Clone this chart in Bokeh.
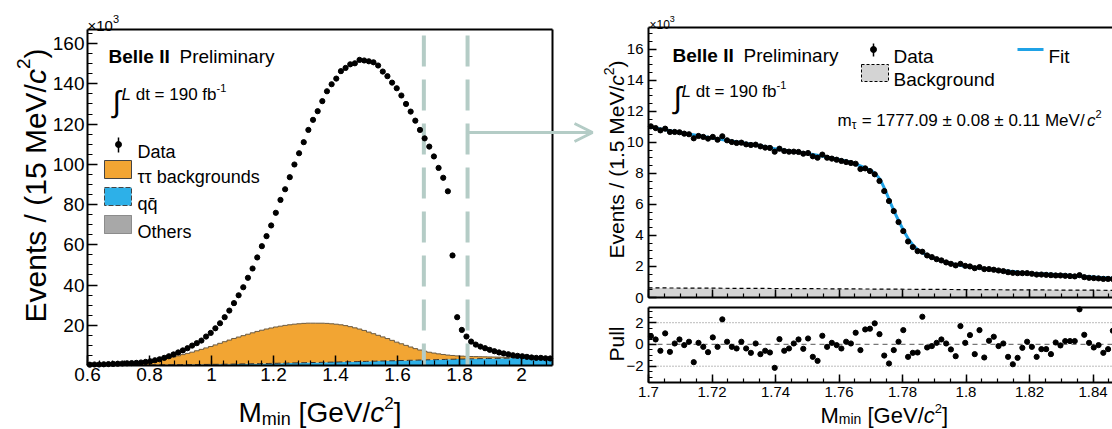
import numpy as np
from bokeh.plotting import figure
from bokeh.layouts import row
from bokeh.models import Range1d, Label, Arrow, OpenHead, FixedTicker, LinearAxis
from bokeh.embed import file_html
from bokeh.resources import INLINE

FONT = "Liberation Sans"

# ------------------------------------------------------------------ data
# Left panel: M_min spectrum, 100 bins of 15 MeV from 0.6 to 2.1 GeV (values x10^3)
L_XMIN, L_XMAX, L_BIN = 0.6, 2.1, 0.015
left_data = [0.4, 0.5, 0.5, 0.6, 0.7, 0.8, 0.9, 1.0, 1.1, 1.2,
             1.3, 1.5, 1.8, 2.1, 2.6, 3.1, 3.8, 4.6, 5.5, 6.5,
             7.5, 8.6, 9.9, 11.1, 12.4, 14.4, 16.2, 18.5, 21.0, 24.0,
             27.3, 31.0, 34.9, 38.9, 43.6, 48.2, 53.7, 59.3, 64.3, 69.6,
             75.9, 82.3, 87.6, 93.6, 99.9, 105.5, 111.0, 117.1, 122.1, 126.4,
             131.4, 136.3, 139.8, 142.6, 146.3, 147.9, 149.7, 150.2, 151.9, 151.6,
             151.2, 150.7, 149.1, 146.1, 143.8, 140.6, 137.8, 134.2, 130.0, 126.2,
             121.7, 117.1, 112.9, 108.8, 103.9, 98.2, 93.3, 86.6, 54.7, 24.0,
             17.7, 14.4, 11.9, 10.4, 9.4, 8.6, 7.8, 7.1, 6.5, 6.0,
             5.6, 5.1, 4.8, 4.6, 4.3, 4.0, 3.8, 3.8, 3.6, 3.5]
left_tautau = [0.25, 0.30, 0.35, 0.40, 0.44, 0.54, 0.63, 0.73, 0.82, 0.97,
               1.11, 1.30, 1.50, 1.79, 2.08, 2.47, 2.86, 3.35, 3.84, 4.42,
               5.00, 5.58, 6.16, 6.84, 7.52, 8.20, 8.87, 9.64, 10.41, 11.18,
               11.95, 12.72, 13.38, 14.04, 14.70, 15.36, 16.02, 16.58, 17.14, 17.60,
               18.05, 18.40, 18.75, 19.00, 19.25, 19.40, 19.55, 19.60, 19.55, 19.50,
               19.45, 19.30, 19.05, 18.80, 18.45, 18.00, 17.45, 16.80, 16.15, 15.40,
               14.54, 13.68, 12.82, 11.96, 11.10, 10.14, 9.18, 8.32, 7.46, 6.60,
               5.74, 4.98, 4.32, 3.76, 3.30, 2.84, 2.48, 2.12, 1.86, 1.60,
               1.45, 1.30, 1.15, 1.05, 0.95, 0.85, 0.76, 0.67, 0.58, 0.49,
               0.40, 0.36, 0.32, 0.28, 0.24, 0.20, 0.17, 0.14, 0.11, 0.08]
left_qq = [0.05, 0.05, 0.05, 0.05, 0.06, 0.06, 0.07, 0.07, 0.08, 0.08,
           0.09, 0.10, 0.10, 0.11, 0.12, 0.13, 0.14, 0.15, 0.16, 0.18,
           0.20, 0.22, 0.24, 0.26, 0.28, 0.30, 0.33, 0.36, 0.39, 0.42,
           0.45, 0.48, 0.52, 0.56, 0.60, 0.64, 0.68, 0.72, 0.76, 0.80,
           0.85, 0.90, 0.95, 1.00, 1.05, 1.10, 1.15, 1.20, 1.25, 1.30,
           1.35, 1.40, 1.45, 1.50, 1.55, 1.60, 1.65, 1.70, 1.75, 1.80,
           1.86, 1.92, 1.98, 2.04, 2.10, 2.16, 2.22, 2.28, 2.34, 2.40,
           2.46, 2.52, 2.58, 2.64, 2.70, 2.76, 2.82, 2.88, 2.94, 3.00,
           3.05, 3.10, 3.15, 3.20, 3.25, 3.30, 3.34, 3.38, 3.42, 3.46,
           3.50, 3.54, 3.58, 3.62, 3.66, 3.70, 3.73, 3.76, 3.79, 3.82]
left_others = [0.15, 0.15, 0.16, 0.16, 0.17, 0.17, 0.18, 0.18, 0.18, 0.19,
               0.19, 0.19, 0.20, 0.20, 0.20, 0.20, 0.21, 0.21, 0.21, 0.21,
               0.22, 0.22, 0.22, 0.22, 0.22, 0.23, 0.23, 0.23, 0.23, 0.23,
               0.23, 0.23, 0.24, 0.24, 0.24, 0.24, 0.24, 0.24, 0.24, 0.24,
               0.24, 0.24, 0.24, 0.24, 0.24, 0.24, 0.24, 0.24, 0.24, 0.23,
               0.23, 0.23, 0.23, 0.23, 0.23, 0.22, 0.22, 0.22, 0.22, 0.22,
               0.21, 0.21, 0.21, 0.21, 0.20, 0.20, 0.20, 0.20, 0.20, 0.19,
               0.19, 0.19, 0.19, 0.19, 0.18, 0.18, 0.18, 0.18, 0.18, 0.18,
               0.17, 0.17, 0.17, 0.17, 0.17, 0.17, 0.17, 0.16, 0.16, 0.16,
               0.16, 0.16, 0.16, 0.16, 0.16, 0.15, 0.15, 0.15, 0.15, 0.15]
left_xticks = [0.6, 0.8, 1, 1.2, 1.4, 1.6, 1.8, 2]
left_xtick_labels = ["0.6", "0.8", "1", "1.2", "1.4", "1.6", "1.8", "2"]
left_yticks = [20, 40, 60, 80, 100, 120, 140, 160]
L_YMAX = 167
window_lo, window_hi = 1.685, 1.826   # zoom window marked in the left panel

# Right panel: 100 bins of 1.5 MeV from 1.70 GeV (values x10^3)
R_XMIN, R_XMAX, R_BIN = 1.7, 1.85, 0.0015
right_data = [11.03, 10.92, 10.77, 10.88, 10.67, 10.67, 10.65, 10.56, 10.52, 10.26,
              10.41, 10.35, 10.24, 10.35, 10.17, 10.39, 10.13, 10.02, 9.96, 9.98,
              9.87, 9.83, 9.85, 9.74, 9.66, 9.64, 9.40, 9.59, 9.44, 9.40,
              9.40, 9.38, 9.27, 9.31, 9.10, 9.01, 9.21, 9.01, 8.95, 8.88,
              8.80, 8.73, 8.67, 8.62, 8.28, 8.32, 8.15, 7.94, 7.51, 6.86,
              6.22, 5.57, 4.86, 4.28, 3.61, 3.25, 2.99, 2.95, 2.71, 2.60,
              2.47, 2.39, 2.26, 2.17, 2.07, 2.17, 2.04, 2.00, 1.89, 1.96,
              1.83, 1.83, 1.79, 1.74, 1.70, 1.63, 1.59, 1.57, 1.57, 1.57,
              1.53, 1.48, 1.48, 1.46, 1.44, 1.42, 1.42, 1.40, 1.38, 1.36,
              1.44, 1.31, 1.27, 1.25, 1.23, 1.20, 1.20, 1.19, 1.18, 1.18]
right_pull = [0.77, 0.46, -0.58, 1.02, -0.68, 0.09, 0.46, -0.06, 0.25, -1.63,
              0.15, -0.22, -0.71, 0.65, -0.22, 2.31, 0.25, -0.22, -0.37, 0.25,
              -0.37, -0.77, 0.09, -0.89, -0.58, -0.74, -2.15, 0.49, -0.58, -0.37,
              0.09, 0.46, -0.40, 0.55, -1.14, -1.51, 0.80, -0.22, 0.15, -0.06,
              -0.37, 0.25, 0.09, 1.08, -0.52, 1.38, 1.45, 1.94, 0.95, -1.02,
              -1.75, -0.52, 0.25, 1.32, -1.14, -0.77, -0.74, 2.55, -0.28, -0.15,
              0.15, 0.46, 0.09, -0.46, -1.08, 1.69, 0.15, 0.86, -0.89, 1.32,
              -1.20, 0.34, 0.71, -0.15, 0.09, -1.14, -1.82, -1.23, -0.31, 0.25,
              -0.22, -1.14, -0.43, -0.43, -0.89, 0.18, -0.09, 0.31, 0.31, 0.31,
              3.23, 0.89, 0.15, -0.28, -0.06, -0.77, -0.43, 1.26, 0.30, -0.50]
fit_x = [1.700, 1.705, 1.710, 1.715, 1.720, 1.725, 1.730, 1.735, 1.740, 1.745,
         1.750, 1.755, 1.760, 1.7625, 1.765, 1.7675, 1.770, 1.7715, 1.773, 1.7745,
         1.776, 1.7775, 1.779, 1.7805, 1.782, 1.7835, 1.785, 1.7865, 1.788, 1.790,
         1.795, 1.800, 1.810, 1.820, 1.830, 1.840, 1.850]
fit_y = [11.02, 10.82, 10.62, 10.45, 10.28, 10.12, 9.96, 9.80, 9.58, 9.42,
         9.28, 9.10, 8.90, 8.78, 8.62, 8.42, 8.20, 7.98, 7.60, 6.95,
         6.20, 5.50, 4.85, 4.25, 3.72, 3.32, 3.05, 2.86, 2.70, 2.52,
         2.20, 2.00, 1.75, 1.57, 1.46, 1.32, 1.20]
bkg_x = [1.70, 1.75, 1.80, 1.85]
bkg_y = [0.62, 0.57, 0.51, 0.46]
right_xticks = [1.7, 1.72, 1.74, 1.76, 1.78, 1.8, 1.82, 1.84]
right_xtick_labels = ["1.7", "1.72", "1.74", "1.76", "1.78", "1.8", "1.82", "1.84"]
right_yticks = [0, 2, 4, 6, 8, 10, 12, 14, 16]
RY_MAX = 17.4
pull_yticks = [-2, 0, 2]
pull_ytick_labels = ["\u22122", "0", "2"]
PULL_MIN, PULL_MAX = -3.5, 3.4

# ------------------------------------------------------------------ colours
ORANGE, BLUE, GREY = "#f2a533", "#2db0e8", "#a8a8a8"
BKG_GREY, FIT_BLUE, WIN = "#d4d4d4", "#1fa2e6", "#b4ccc6"

# ------------------------------------------------------------------ text helpers
AW = {' ': 278, '.': 278, ',': 278, '=': 584, '\u00b1': 584, '/': 278, '(': 333, ')': 333,
      '[': 278, ']': 278, '-': 333, '\u00d7': 584, 'B': 667, 'D': 722, 'E': 667, 'F': 611,
      'G': 778, 'I': 278, 'L': 556, 'M': 833, 'O': 778, 'P': 667, 'V': 667, 'a': 556,
      'b': 556, 'c': 500, 'd': 556, 'e': 556, 'f': 278, 'g': 556, 'h': 556, 'i': 222,
      'k': 500, 'l': 222, 'm': 833, 'n': 556, 'o': 556, 'r': 333, 's': 500, 't': 278,
      'u': 556, 'v': 500, 'y': 500, '\u03c4': 440, 'q': 556}
BW = {'B': 722, 'e': 556, 'l': 278, 'I': 278, ' ': 278}


def text_width(s, size, bold=False):
    tab = BW if bold else AW
    return sum(tab.get(ch, AW.get(ch, 556)) for ch in s) / 1000.0 * size


def geo(L, T, W, H, xr, yr):
    return dict(L=L, T=T, W=W, H=H, x0=xr[0], x1=xr[1], y0=yr[0], y1=yr[1])


def to_data(g, px, py):
    x = g["x0"] + (px - g["L"]) / g["W"] * (g["x1"] - g["x0"])
    y = g["y0"] + (g["T"] + g["H"] - py) / g["H"] * (g["y1"] - g["y0"])
    return x, y


def rich(fig, g, px, py, pieces, vertical=False):
    """pieces: (text, size, style, rise) set one after another; px, py in page pixels."""
    pos = py if vertical else px
    for txt, size, style, rise in pieces:
        bold = style == "bold"
        lead = len(txt) - len(txt.lstrip(" "))
        if lead:
            adv = text_width(" " * lead, size, bold)
            pos = pos - adv if vertical else pos + adv
            txt = txt.lstrip(" ")
        if vertical:
            x, y = to_data(g, px - rise, pos)
        else:
            x, y = to_data(g, pos, py - rise)
        fig.add_layout(Label(x=x, y=y, text=txt, text_font=FONT, text_font_size=f"{size}px",
                             text_font_style=style, text_color="black", text_align="left",
                             text_baseline="alphabetic", angle=(np.pi / 2 if vertical else 0)))
        adv = text_width(txt, size, bold)
        pos = pos - adv if vertical else pos + adv


def style_axis(ax, size, tin, mtin, standoff):
    ax.axis_line_width = 2
    ax.axis_line_color = "black"
    ax.major_tick_in, ax.major_tick_out = tin, 0
    ax.minor_tick_in, ax.minor_tick_out = mtin, 0
    ax.major_tick_line_width = 1.5
    ax.minor_tick_line_width = 1.2
    ax.major_tick_line_color = "black"
    ax.minor_tick_line_color = "black"
    ax.major_label_text_font = FONT
    ax.major_label_text_font_size = f"{size}px"
    ax.major_label_text_color = "black"
    ax.major_label_standoff = standoff


def hist_xy(lo, hi, vals):
    xs = np.column_stack([lo, hi]).ravel()
    return xs, np.repeat(np.asarray(vals, dtype=float), 2)


def bare_fig(w, h, xr, yr):
    f = figure(width=w, height=h, x_range=Range1d(*xr), y_range=Range1d(*yr),
               output_backend="svg", toolbar_location=None,
               x_axis_location=None, y_axis_location=None,
               min_border_left=0, min_border_right=0, min_border_top=0, min_border_bottom=0)
    f.outline_line_color = None
    f.grid.visible = False
    return f


# ================================================================== left panel
# the whole canvas (596 x 429) is the frame; data area is page x 87..552, y 29..365
SXL, SYL = 465 / (L_XMAX - L_XMIN), 336 / L_YMAX
LXR = (L_XMIN - 87 / SXL, L_XMIN + 509 / SXL)
LYR = (-(429 - 365) / SYL, 365 / SYL)
gL = geo(0, 0, 596, 429, LXR, LYR)
p1 = bare_fig(596, 429, LXR, LYR)

edges = L_XMIN + L_BIN * np.arange(len(left_data) + 1)
lefts, rights = edges[:-1], edges[1:]
centers = 0.5 * (lefts + rights)
oth = np.array(left_others)
qqt = oth + np.array(left_qq)
tot = qqt + np.array(left_tautau)

hx, h_oth = hist_xy(lefts, rights, oth)
_, h_qq = hist_xy(lefts, rights, qqt)
_, h_tot = hist_xy(lefts, rights, tot)
p1.varea(x=hx, y1=0, y2=h_oth, fill_color=GREY)
p1.varea(x=hx, y1=h_oth, y2=h_qq, fill_color=BLUE)
p1.varea(x=hx, y1=h_qq, y2=h_tot, fill_color=ORANGE)
p1.line(hx, h_tot, line_color="#6b5a40", line_width=1)
p1.line(hx, h_qq, line_color="#333333", line_width=1, line_dash="6 3")

ytop_win = to_data(gL, 0, 35)[1]
p1.segment(x0=[window_lo, window_hi], y0=[ytop_win, ytop_win], x1=[window_lo, window_hi],
           y1=[0, 0], line_color=WIN, line_width=4, line_dash="31 13")
ay0 = to_data(gL, 0, 132)[1]
ax1 = to_data(gL, 592, 132)[0]
p1.add_layout(Arrow(x_start=window_hi, y_start=ay0, x_end=ax1, y_end=ay0, line_color=WIN,
                    line_width=3, end=OpenHead(size=18, line_color=WIN, line_width=3)))

p1.scatter(centers, left_data, size=5.2, color="black")

# top and right frame borders of the data area
p1.segment(x0=[L_XMIN, L_XMAX], y0=[L_YMAX, 0], x1=[L_XMAX, L_XMAX], y1=[L_YMAX, L_YMAX],
           line_color="black", line_width=2)

xax1 = LinearAxis(fixed_location=0, bounds=(L_XMIN, L_XMAX),
                  ticker=FixedTicker(ticks=left_xticks,
                                     minor_ticks=list(np.round(np.arange(0.6, 2.1001, 0.04), 3))),
                  major_label_overrides=dict(zip(left_xticks, left_xtick_labels)))
yax1 = LinearAxis(fixed_location=L_XMIN, bounds=(0, L_YMAX),
                  ticker=FixedTicker(ticks=left_yticks, minor_ticks=list(range(0, L_YMAX + 1, 5))))
style_axis(xax1, 19, 10, 5, 2)
style_axis(yax1, 19, 10, 5, 3)
p1.add_layout(xax1, "below")
p1.add_layout(yax1, "left")

rich(p1, gL, 87, 25, [("\u00d710", 15, "normal", 0), ("3", 11, "normal", 7)])
rich(p1, gL, 108, 56, [("Belle II", 19, "bold", 0)])
rich(p1, gL, 179, 56, [("Preliminary", 19, "normal", 0)])
rich(p1, gL, 112, 101, [("\u222b", 30, "normal", 0)])
rich(p1, gL, 121, 94, [("L", 17, "italic", 0), (" dt = 190 fb", 17, "normal", 0),
                       ("-1", 11, "normal", 7)])
# legend keys
kx0, ky0 = to_data(gL, 118, 137)
_, ky1 = to_data(gL, 118, 152)
p1.segment(x0=[kx0], y0=[ky0], x1=[kx0], y1=[ky1], line_color="black", line_width=1.5)
p1.scatter([kx0], [to_data(gL, 118, 144)[1]], size=6, color="black")
for (ytop, fill, dash) in [(160, ORANGE, "solid"), (187, BLUE, "5 2"), (215, GREY, "1 1")]:
    bx0, by0 = to_data(gL, 104, ytop)
    bx1, by1 = to_data(gL, 131, ytop + 18)
    p1.quad(left=[bx0], right=[bx1], top=[by0], bottom=[by1], fill_color=fill,
            line_color="#444444", line_width=1, line_dash=dash)
rich(p1, gL, 137, 151, [("Data", 18, "normal", 0)])
rich(p1, gL, 137, 176, [("\u03c4\u03c4 backgrounds", 18, "normal", 0)])
rich(p1, gL, 137, 203, [("qq\u0304", 18, "normal", 0)])
rich(p1, gL, 137, 231, [("Others", 18, "normal", 0)])
# axis titles
rich(p1, gL, 35, 322, [("Events / (15 MeV/", 30, "normal", 0), ("c", 30, "italic", 0),
                       ("2", 19, "normal", 12), (")", 30, "normal", 0)], vertical=True)
rich(p1, gL, 238, 412, [("M", 28, "normal", 0), ("min", 18, "normal", -6),
                        (" [GeV/", 28, "normal", 0), ("c", 28, "italic", 0),
                        ("2", 17, "normal", 10), ("]", 28, "normal", 0)])

# ================================================================== right panel (fit + pull)
# canvas page x 596..1112, y 0..429; main data area y 27..297, pull area y 307..382
SXR, SYR = 3175.0, 270 / RY_MAX
SYP = 75 / (PULL_MAX - PULL_MIN)
RXR = (R_XMIN - 52 / SXR, R_XMIN + 464 / SXR)
RYR = (-(429 - 297) / SYR, 297 / SYR)
PYR = (PULL_MIN - (429 - 382) / SYP, PULL_MIN + 382 / SYP)
gR = geo(596, 0, 516, 429, RXR, RYR)
p2 = bare_fig(516, 429, RXR, RYR)
p2.extra_y_ranges = {"pull": Range1d(*PYR)}

rcent = R_XMIN + R_BIN * (np.arange(len(right_data)) + 0.5)
p2.varea(x=bkg_x, y1=0, y2=bkg_y, fill_color=BKG_GREY)
p2.line(bkg_x, bkg_y, line_color="black", line_width=1.2, line_dash="4 3")
p2.line(fit_x, fit_y, line_color=FIT_BLUE, line_width=3)
p2.scatter(rcent, right_data, size=5.2, color="black")
p2.segment(x0=[R_XMIN], y0=[RY_MAX], x1=[R_XMAX], y1=[RY_MAX], line_color="black", line_width=2)

# pull
p2.segment(x0=[R_XMIN, R_XMIN], y0=[2, -2], x1=[R_XMAX, R_XMAX], y1=[2, -2],
           line_color="#777777", line_width=1, line_dash="1 2", y_range_name="pull")
p2.segment(x0=[R_XMIN], y0=[0], x1=[R_XMAX], y1=[0], line_color="#777777", line_width=1.3,
           line_dash="5 4", y_range_name="pull")
p2.scatter(rcent, right_pull, size=5.2, color="black", y_range_name="pull")
p2.segment(x0=[R_XMIN], y0=[PULL_MAX], x1=[R_XMAX], y1=[PULL_MAX], line_color="black",
           line_width=2, y_range_name="pull")

minor_r = list(np.round(np.arange(1.7, 1.8501, 0.005), 4))
xax2 = LinearAxis(fixed_location=0, bounds=(R_XMIN, R_XMAX),
                  ticker=FixedTicker(ticks=right_xticks, minor_ticks=minor_r),
                  major_label_overrides={t: "" for t in right_xticks})
style_axis(xax2, 1, 8, 4, 0)
yax2 = LinearAxis(fixed_location=R_XMIN, bounds=(0, RY_MAX),
                  ticker=FixedTicker(ticks=right_yticks, minor_ticks=list(np.arange(0, 17.5, 0.5))))
style_axis(yax2, 15, 8, 4, 5)
pull_x_loc = to_data(gR, 0, 382)[1]
xax3 = LinearAxis(fixed_location=pull_x_loc, bounds=(R_XMIN, R_XMAX),
                  ticker=FixedTicker(ticks=right_xticks, minor_ticks=minor_r),
                  major_label_overrides=dict(zip(right_xticks, right_xtick_labels)))
style_axis(xax3, 15, 8, 4, 4)
yax3 = LinearAxis(fixed_location=R_XMIN, y_range_name="pull", bounds=(PULL_MIN, PULL_MAX),
                  ticker=FixedTicker(ticks=pull_yticks,
                                     minor_ticks=list(np.arange(-3.5, 3.5, 0.5))),
                  major_label_overrides=dict(zip(pull_yticks, pull_ytick_labels)))
style_axis(yax3, 15, 8, 4, 5)
p2.add_layout(xax2, "below")
p2.add_layout(xax3, "below")
p2.add_layout(yax2, "left")
p2.add_layout(yax3, "left")

rich(p2, gR, 649, 24, [("\u00d710", 12, "normal", 0), ("3", 9, "normal", 6)])
rich(p2, gR, 672, 55, [("Belle II", 19, "bold", 0)])
rich(p2, gR, 743, 55, [("Preliminary", 19, "normal", 0)])
rich(p2, gR, 673, 97, [("\u222b", 30, "normal", 0)])
rich(p2, gR, 681, 91, [("L", 17, "italic", 0), (" dt = 190 fb", 17, "normal", 0),
                       ("-1", 11, "normal", 7)])
# legend
dx0, dy0 = to_data(gR, 873, 43)
_, dy1 = to_data(gR, 873, 56)
p2.segment(x0=[dx0], y0=[dy0], x1=[dx0], y1=[dy1], line_color="black", line_width=1.5)
p2.scatter([dx0], [to_data(gR, 873, 49)[1]], size=6, color="black")
fx0, fy0 = to_data(gR, 1017, 49)
fx1, _ = to_data(gR, 1043, 49)
p2.segment(x0=[fx0], y0=[fy0], x1=[fx1], y1=[fy0], line_color=FIT_BLUE, line_width=3)
bx0, by0 = to_data(gR, 861, 64)
bx1, by1 = to_data(gR, 888, 81)
p2.quad(left=[bx0], right=[bx1], top=[by0], bottom=[by1], fill_color=BKG_GREY,
        line_color="black", line_width=1, line_dash="3 2")
rich(p2, gR, 893, 56, [("Data", 19, "normal", 0)])
rich(p2, gR, 1048, 56, [("Fit", 19, "normal", 0)])
rich(p2, gR, 893, 79, [("Background", 19, "normal", 0)])
rich(p2, gR, 837, 120, [("m", 17, "normal", 0), ("\u03c4", 12, "normal", -4),
                        (" = 1777.09 \u00b1 0.08 \u00b1 0.11 MeV/", 17, "normal", 0),
                        ("c", 17, "italic", 0), ("2", 11, "normal", 7)])
# axis titles
rich(p2, gR, 616, 258, [("Events / (1.5 MeV/", 21, "normal", 0), ("c", 21, "italic", 0),
                        ("2", 14, "normal", 8), (")", 21, "normal", 0)], vertical=True)
rich(p2, gR, 616, 361, [("Pull", 21, "normal", 0)], vertical=True)
rich(p2, gR, 820, 415, [("M", 22, "normal", 0), ("min", 14, "normal", -3),
                        (" [GeV/", 22, "normal", 0), ("c", 22, "italic", 0),
                        ("2", 13, "normal", 7), ("]", 22, "normal", 0)])

layout = row(p1, p2)
open("out.html", "w").write(file_html(layout, INLINE))
